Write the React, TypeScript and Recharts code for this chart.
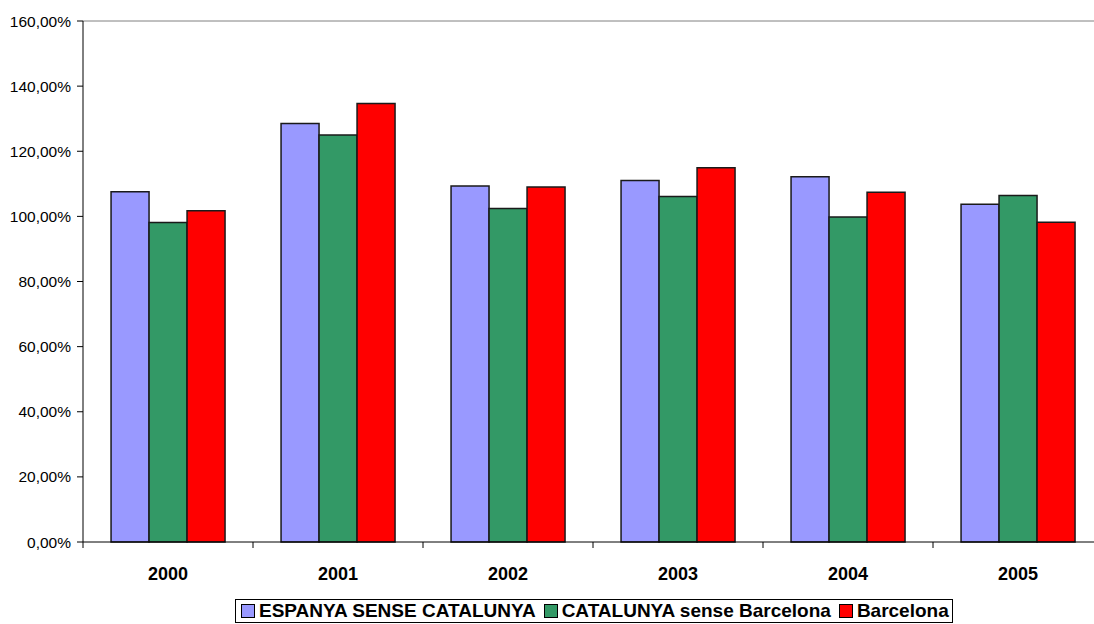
import React from "react";
import { Bar, BarChart, Legend, ReferenceLine, XAxis, YAxis } from "recharts";

const years = ["2000", "2001", "2002", "2003", "2004", "2005"];
const espanya = [107.6, 128.5, 109.3, 111.0, 112.2, 103.7];
const catalunya = [98.1, 125.0, 102.4, 106.1, 99.8, 106.4];
const barcelona = [101.7, 134.7, 109.0, 114.9, 107.4, 98.2];
const yTicks = [0, 20, 40, 60, 80, 100, 120, 140, 160];

const series = [
  { key: "espanya", name: "ESPANYA SENSE CATALUNYA", color: "#9999FF" },
  { key: "catalunya", name: "CATALUNYA sense Barcelona", color: "#339966" },
  { key: "barcelona", name: "Barcelona", color: "#FF0000" },
];

const data = years.map((year, i) => ({
  year,
  espanya: espanya[i],
  catalunya: catalunya[i],
  barcelona: barcelona[i],
}));

const FONT = "Arial, 'Liberation Sans', sans-serif";

const fmtPct = (v: number) => v.toFixed(2).replace(".", ",") + "%";

function YearTick(props: any) {
  const { x, y, payload, width, visibleTicksCount, index } = props;
  const band = width && visibleTicksCount ? width / visibleTicksCount : 170;
  const left = x - band / 2;
  return (
    <g>
      <line x1={left} x2={left} y1={y} y2={y + 6} stroke="#000" strokeWidth={1} />
      {index === visibleTicksCount - 1 && (
        <line x1={x + band / 2} x2={x + band / 2} y1={y} y2={y + 6} stroke="#000" strokeWidth={1} />
      )}
      <text x={x} y={y + 38} textAnchor="middle" fontFamily={FONT} fontSize={18} fontWeight="bold" fill="#000">
        {payload.value}
      </text>
    </g>
  );
}

function LegendBox() {
  return (
    <div style={{ textAlign: "left", paddingLeft: 235, lineHeight: 0 }}>
      <div
        style={{
          display: "inline-flex",
          alignItems: "center",
          height: 24,
          boxSizing: "border-box",
          border: "1px solid #000",
          padding: "0 3px 0 5px",
          fontFamily: FONT,
          fontSize: 19,
          fontWeight: "bold",
          lineHeight: "22px",
          color: "#000",
          background: "#fff",
        }}
      >
        {series.map((s, i) => (
          <span
            key={s.key}
            style={{ display: "inline-flex", alignItems: "center", marginRight: i < series.length - 1 ? 8 : 0 }}
          >
            <span
              style={{
                display: "inline-block",
                width: 12,
                height: 12,
                background: s.color,
                border: "1px solid #000",
                marginRight: 4,
              }}
            />
            {s.name}
          </span>
        ))}
      </div>
    </div>
  );
}

export default function App() {
  return (
    <div style={{ position: "absolute", top: 0, left: 0, width: 1094, height: 624, overflow: "hidden", background: "#fff" }}>
      <BarChart
        width={1110}
        height={624}
        data={data}
        margin={{ top: 21, right: 7, bottom: 1, left: 0 }}
        barCategoryGap="16.5%"
        barGap={0}
      >
        <XAxis
          dataKey="year"
          height={57}
          tickLine={false}
          tickSize={0}
          tickMargin={0}
          axisLine={{ stroke: "#000", strokeWidth: 1 }}
          tick={<YearTick />}
          interval={0}
        />
        <YAxis
          width={83}
          domain={[0, 160]}
          ticks={yTicks}
          interval={0}
          tickFormatter={fmtPct}
          tickSize={6}
          tickMargin={6}
          axisLine={{ stroke: "#000", strokeWidth: 1 }}
          tickLine={{ stroke: "#000", strokeWidth: 1 }}
          tick={{ fill: "#000", fontFamily: FONT, fontSize: 15.5 }}
        />
        <ReferenceLine y={160} stroke="#808080" strokeWidth={1} />
        {series.map((s) => (
          <Bar
            key={s.key}
            dataKey={s.key}
            name={s.name}
            fill={s.color}
            stroke="#1a1a1a"
            strokeWidth={1.5}
            isAnimationActive={false}
          />
        ))}
        <Legend verticalAlign="bottom" align="center" content={() => <LegendBox />} />
      </BarChart>
    </div>
  );
}
